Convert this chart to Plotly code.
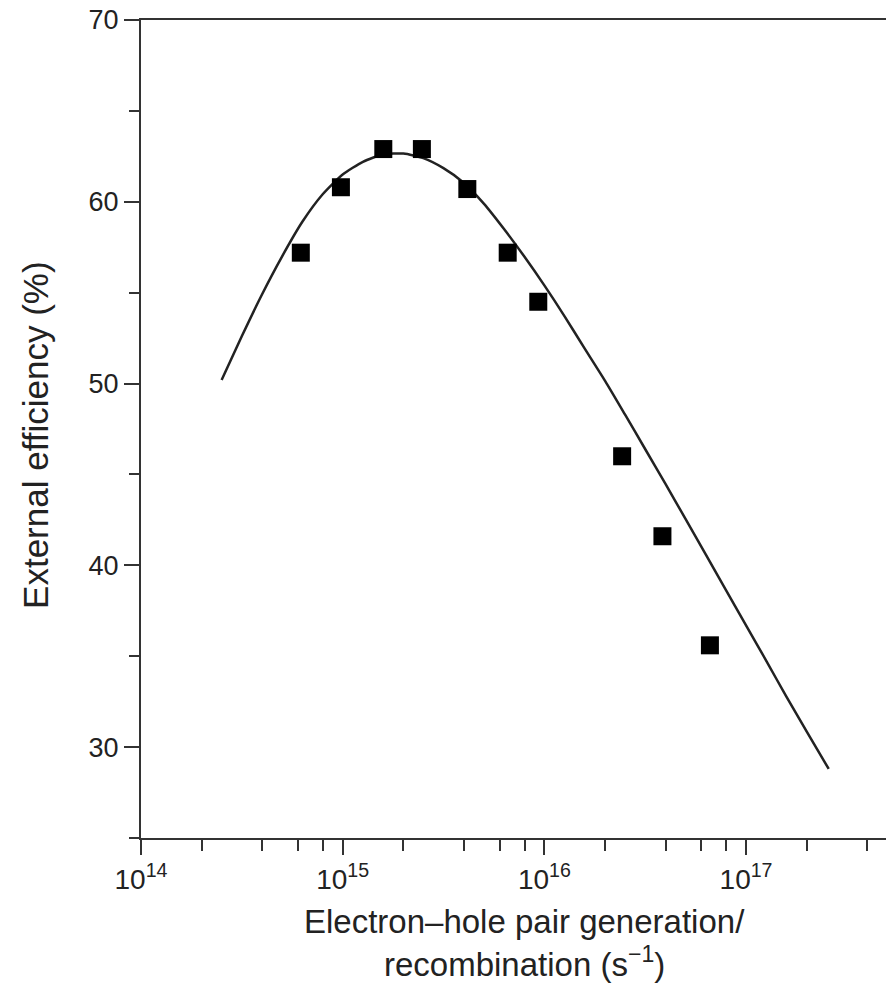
import plotly.graph_objects as go

# Measured external efficiency vs. electron-hole pair generation/recombination rate
gen_rate = [6.2e14, 9.8e14, 1.59e15, 2.47e15, 4.15e15, 6.58e15, 9.33e15, 2.43e16, 3.85e16, 6.62e16]
efficiency = [57.2, 60.8, 62.9, 62.9, 60.7, 57.2, 54.5, 46.0, 41.6, 35.6]

# Model curve
model_rate = [2.51e14, 3.16e14, 3.98e14, 5.01e14, 6.31e14, 7.94e14, 1.00e15, 1.26e15,
              1.58e15, 2.00e15, 2.51e15, 3.16e15, 3.98e15, 5.01e15, 6.31e15, 7.94e15,
              1.00e16, 1.26e16, 1.58e16, 2.00e16, 2.51e16, 3.16e16, 3.98e16, 5.01e16,
              6.31e16, 7.94e16, 1.00e17, 1.26e17, 1.58e17, 2.00e17, 2.57e17]
model_eff = [50.2, 52.6, 54.9, 57.0, 58.9, 60.4, 61.5, 62.2,
             62.6, 62.65, 62.4, 61.85, 61.05, 59.9, 58.5, 57.0,
             55.4, 53.7, 51.95, 50.15, 48.3, 46.4, 44.5, 42.55,
             40.6, 38.65, 36.7, 34.75, 32.8, 30.85, 28.8]

x_major = [1e14, 1e15, 1e16, 1e17]
x_major_text = ["10<sup>14</sup>", "10<sup>15</sup>", "10<sup>16</sup>", "10<sup>17</sup>"]
x_minor = [m * 10 ** e for e in range(14, 18) for m in (2, 4, 6, 8)]
y_major = [30, 40, 50, 60, 70]
y_minor = [25, 35, 45, 55, 65]

FONT = "Liberation Sans, Arial, Helvetica, sans-serif"
INK = "#222222"
AXIS = "#333333"

fig = go.Figure()
fig.add_trace(go.Scatter(
    x=model_rate, y=model_eff, mode="lines",
    line=dict(color=INK, width=2.5, shape="spline", smoothing=0.6),
    showlegend=False, hoverinfo="skip",
))
fig.add_trace(go.Scatter(
    x=gen_rate, y=efficiency, mode="markers",
    marker=dict(symbol="square", size=18, color="black", line=dict(width=0)),
    showlegend=False,
))

fig.update_layout(
    width=886, height=988,
    margin=dict(l=141, r=0, t=20, b=150),
    paper_bgcolor="white", plot_bgcolor="white",
    font=dict(family=FONT, color=INK),
    xaxis=dict(
        type="log", range=[14, 17.694],
        showline=True, linecolor=AXIS, linewidth=2, mirror=True,
        showgrid=False, zeroline=False,
        ticks="outside", ticklen=15, tickwidth=2, tickcolor=AXIS,
        tickmode="array", tickvals=x_major, ticktext=x_major_text,
        tickfont=dict(size=28, color=INK, family=FONT),
        minor=dict(tickmode="array", tickvals=x_minor, ticks="outside",
                   ticklen=11, tickwidth=2, tickcolor=AXIS, showgrid=False),
    ),
    yaxis=dict(
        range=[25, 70],
        showline=True, linecolor=AXIS, linewidth=2, mirror=False,
        showgrid=False, zeroline=False,
        ticks="outside", ticklen=15, tickwidth=2, tickcolor=AXIS,
        tickmode="array", tickvals=y_major,
        tickfont=dict(size=27, color=INK, family=FONT),
        minor=dict(tickmode="array", tickvals=y_minor, ticks="outside",
                   ticklen=10, tickwidth=2, tickcolor=AXIS, showgrid=False),
    ),
)

# Axis titles
fig.add_annotation(
    text="External efficiency (%)", textangle=-90,
    xref="paper", yref="paper", x=-0.141, y=0.4927,
    xanchor="center", yanchor="middle", showarrow=False,
    font=dict(size=35, color=INK, family=FONT),
)
fig.add_annotation(
    text="Electron\u2013hole pair generation/",
    xref="paper", yref="paper", x=0.5151, y=(838 - 921) / 818,
    xanchor="center", yanchor="middle", showarrow=False,
    font=dict(size=33, color=INK, family=FONT),
)
fig.add_annotation(
    text="recombination (s<sup>\u22121</sup>)",
    xref="paper", yref="paper", x=0.5151, y=(838 - 962) / 818,
    xanchor="center", yanchor="middle", showarrow=False,
    font=dict(size=33, color=INK, family=FONT),
)

fig.write_html("out.html")
